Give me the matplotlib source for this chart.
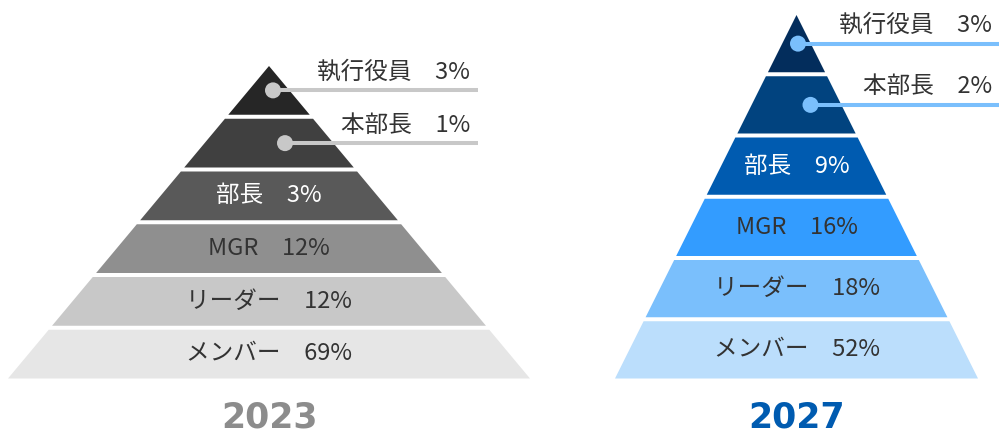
import matplotlib.pyplot as plt
from matplotlib.patches import Polygon, Circle

plt.rcParams['font.family'] = ['Noto Sans CJK JP', 'DejaVu Sans']

# ---- data ----
levels = ['執行役員', '本部長', '部長', 'MGR', 'リーダー', 'メンバー']
share_2023 = [3, 1, 3, 12, 12, 69]
share_2027 = [3, 2, 9, 16, 18, 52]
years = ['2023', '2027']

gray_fill = ['#262626', '#404040', '#595959', '#8f8f8f', '#c8c8c8', '#e6e6e6']
blue_fill = ['#032d5c', '#01437f', '#005bb0', '#339cff', '#7abffc', '#bbdefc']
gray_text = ['#333333', '#333333', '#ffffff', '#333333', '#333333', '#333333']
blue_text = ['#333333', '#333333', '#ffffff', '#333333', '#333333', '#333333']


def draw_pyramid(ax, cx, apex_y, base_y, half_base, fills, txt_colors, values,
                 callout_color, dot_dx, line_end, label_right, year, year_color):
    gap = 4
    n = len(levels)
    h = (base_y - apex_y - gap * (n - 1)) / n
    slope = half_base / (base_y - apex_y)

    for i, (name, val) in enumerate(zip(levels, values)):
        y0 = apex_y + i * (h + gap)
        y1 = y0 + h
        w0 = (y0 - apex_y) * slope
        w1 = (y1 - apex_y) * slope
        poly = Polygon([(cx - w0, y0), (cx + w0, y0), (cx + w1, y1), (cx - w1, y1)],
                       closed=True, facecolor=fills[i], edgecolor='none')
        ax.add_patch(poly)
        label = f'{name}\u3000{val}%'
        yc = (y0 + y1) / 2
        if i < 2:
            # small top tiers get a callout line out to the right
            dx = cx + dot_dx[i]
            ax.plot([dx, line_end], [yc, yc], color=callout_color, lw=2.9,
                    solid_capstyle='butt', zorder=3)
            ax.add_patch(Circle((dx, yc), 8, facecolor=callout_color,
                                edgecolor='none', zorder=4))
            ax.text(label_right, yc - 18, label, ha='right', va='center',
                    fontsize=17, color='#333333')
        else:
            ax.text(cx, yc, label, ha='center', va='center',
                    fontsize=17, color=txt_colors[i])

    ax.text(cx, 417, year, ha='center', va='center', fontsize=25,
            fontweight='bold', color=year_color, family='DejaVu Sans')


fig = plt.figure(figsize=(9.99, 4.33), dpi=100)
ax = fig.add_axes([0, 0, 1, 1])
ax.set_xlim(0, 999)
ax.set_ylim(433, 0)
ax.axis('off')

draw_pyramid(ax, 269, 66, 378.5, 261, gray_fill, gray_text, share_2023,
             '#c8c8c8', [4, 16], 478, 470, years[0], '#8c8c8c')
draw_pyramid(ax, 796.5, 15, 378.5, 181.5, blue_fill, blue_text, share_2027,
             '#7abffc', [1.5, 14], 999, 992, years[1], '#005bb0')

fig.savefig('out.png', dpi=100)
plt.close(fig)
